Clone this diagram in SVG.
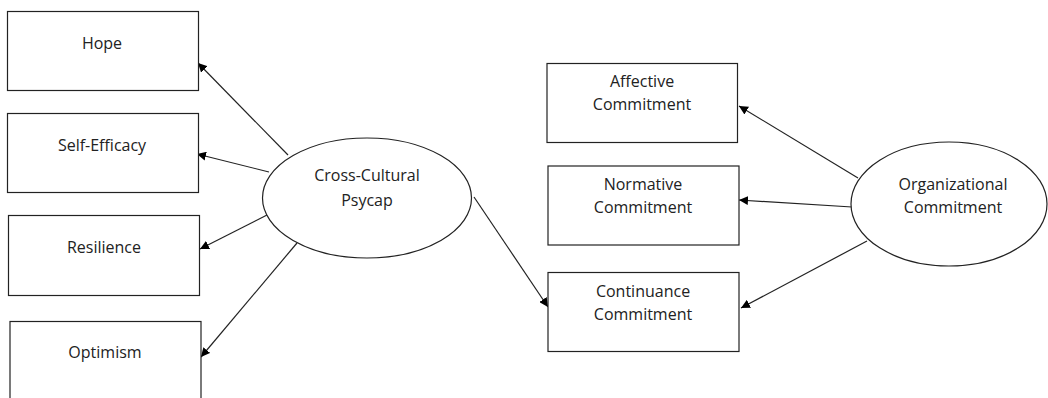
<svg xmlns="http://www.w3.org/2000/svg" width="1048" height="398" viewBox="0 0 1048 398">
<style>
.box{fill:#fff;stroke:#222;stroke-width:1.2}
.ell{fill:#fff;stroke:#222;stroke-width:1.2}
.lbl{font-family:"Open Sans","Liberation Sans",sans-serif;font-size:16px;fill:#222;text-anchor:middle}
.con{stroke:#222;stroke-width:1.2;fill:none;marker-end:url(#ah)}
</style>
<defs>
<marker id="ah" viewBox="0 0 10 10" refX="10" refY="5" markerWidth="9" markerHeight="9" markerUnits="userSpaceOnUse" orient="auto">
<path d="M0,0 L10,5 L0,10 z" fill="#000"/>
</marker>
</defs>
<rect width="1048" height="398" fill="#fff"/>
<g id="connectors">
<line class="con" x1="288" y1="155" x2="198" y2="63"/>
<line class="con" x1="269" y1="172" x2="197" y2="154"/>
<line class="con" x1="267" y1="215" x2="200" y2="249"/>
<line class="con" x1="297" y1="243" x2="201" y2="357"/>
<line class="con" x1="474" y1="197" x2="548" y2="307"/>
<line class="con" x1="858" y1="178" x2="739" y2="106"/>
<line class="con" x1="852" y1="207" x2="739" y2="200"/>
<line class="con" x1="867" y1="241" x2="741" y2="308"/>
</g>
<g id="hope"><rect class="box" x="7.5" y="11.5" width="191" height="79"/><text class="lbl" x="102" y="49">Hope</text></g>
<g id="self-efficacy"><rect class="box" x="7.5" y="113.5" width="191" height="79"/><text class="lbl" x="102" y="151">Self-Efficacy</text></g>
<g id="resilience"><rect class="box" x="8.5" y="215.5" width="191" height="80"/><text class="lbl" x="104" y="253">Resilience</text></g>
<g id="optimism"><rect class="box" x="10" y="321.5" width="191" height="90"/><text class="lbl" x="105" y="358">Optimism</text></g>
<g id="psycap"><ellipse class="ell" cx="367" cy="198" rx="104.5" ry="60"/><text class="lbl" x="367" y="181">Cross-Cultural</text><text class="lbl" x="367" y="206">Psycap</text></g>
<g id="affective"><rect class="box" x="547" y="63.5" width="190.5" height="79"/><text class="lbl" x="642" y="87">Affective</text><text class="lbl" x="642" y="110">Commitment</text></g>
<g id="normative"><rect class="box" x="548" y="166" width="191" height="79"/><text class="lbl" x="643" y="190">Normative</text><text class="lbl" x="643" y="213">Commitment</text></g>
<g id="continuance"><rect class="box" x="548" y="272.5" width="191" height="79"/><text class="lbl" x="643" y="297">Continuance</text><text class="lbl" x="643" y="320">Commitment</text></g>
<g id="organizational"><ellipse class="ell" cx="949" cy="204" rx="98" ry="62"/><text class="lbl" x="953" y="190">Organizational</text><text class="lbl" x="953" y="213">Commitment</text></g>
</svg>
